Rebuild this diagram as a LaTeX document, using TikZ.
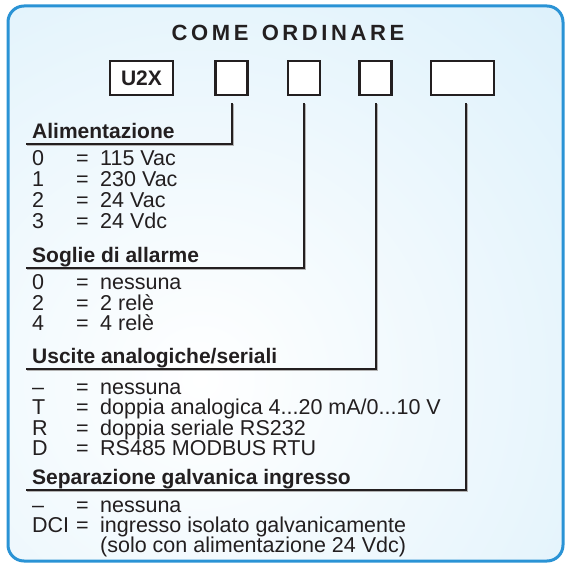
\documentclass[tikz,border=0pt]{standalone}
\usepackage{fontspec}
\setmainfont{Liberation Sans}
\definecolor{txt}{HTML}{231F20}
\definecolor{frameblue}{HTML}{2A93D5}
\definecolor{bgblue}{HTML}{D4EDFA}
\newcommand\rw[2]{\makebox[44pt][l]{#1}\makebox[24pt][l]{=}#2}
\newcommand\rwc[1]{\makebox[44pt][l]{}\makebox[24pt][l]{}#1}
\newcommand\ks{\kern3.6pt}
\begin{document}
\begin{tikzpicture}[x=1pt,y=-1pt,
  box/.style={draw=txt, line width=2.2pt, fill=white, minimum height=34pt, inner sep=0pt, text=txt,
              font=\bfseries\fontsize{21}{21}\selectfont},
  conn/.style={draw=txt, line width=2pt},
  shadowline/.style={draw=black!30, line width=2pt},
  head/.style={anchor=base west, inner sep=0pt, text=txt, font=\bfseries\fontsize{21}{21}\selectfont},
  row/.style={anchor=base west, inner sep=0pt, text=txt, font=\fontsize{21.5}{21.5}\selectfont},
  titlestyle/.style={inner sep=0pt, text=txt, font=\bfseries\fontsize{22}{22}\selectfont},
]
\useasboundingbox (0,0) rectangle (568,567);
% background
\begin{scope}
  \clip[rounded corners=16pt] (8,6) rectangle (563,561);
  \shade[inner color=white, outer color=bgblue] (200,380) circle (660);
\end{scope}
\draw[frameblue, line width=3pt, rounded corners=16pt] (8,6) rectangle (563,561);

% title
\node[titlestyle] (title) at (288,33) {C\ks O\ks M\ks E\ks{} \ks O\ks R\ks D\ks I\ks N\ks A\ks R\ks E};

% boxes
\node[box, minimum width=63pt] (u2x) at (141.5,78) {U2X};
\node[box, minimum width=32pt] (b2) at (231.5,78) {};
\node[box, minimum width=32pt] (b3) at (304,78) {};
\node[box, minimum width=32pt] (b4) at (375.5,78) {};
\node[box, minimum width=63pt] (b5) at (462.5,78) {};

% underline end points
\coordinate (e1) at (26,144);
\coordinate (e2) at (26,268);
\coordinate (e3) at (26,369);
\coordinate (e4) at (26,490);
\coordinate (s1) at ([yshift=-7pt]b2.south);
\coordinate (s2) at ([yshift=-7pt]b3.south);
\coordinate (s3) at ([yshift=-7pt]b4.south);
\coordinate (s4) at ([xshift=3pt,yshift=-7pt]b5.south);

% shadows
\foreach \s/\e in {s1/e1,s2/e2,s3/e3,s4/e4}{
  \draw[shadowline] ([shift={(1.4,1.4)}]\s) |- ([shift={(1.4,1.4)}]\e);
}
% connectors
\draw[conn] (s1) |- (e1);
\draw[conn] (s2) |- (e2);
\draw[conn] (s3) |- (e3);
\draw[conn] (s4) |- (e4);

% section 1
\node[head] (h1) at (32,138.5) {Alimentazione};
\node[row] (r11) at (32,165.3) {\rw{0}{115 Vac}};
\node[row] (r12) at (32,186.3) {\rw{1}{230 Vac}};
\node[row] (r13) at (32,207.3) {\rw{2}{24 Vac}};
\node[row] (r14) at (32,228.3) {\rw{3}{24 Vdc}};

% section 2
\node[head] (h2) at (32,262.5) {Soglie di allarme};
\node[row] (r21) at (32,289.5) {\rw{0}{nessuna}};
\node[row] (r22) at (32,310) {\rw{2}{2 relè}};
\node[row] (r23) at (32,330.5) {\rw{4}{4 relè}};

% section 3
\node[head] (h3) at (32,363.5) {Uscite analogiche/seriali};
\node[row] (r31) at (32,394.3) {\rw{–}{nessuna}};
\node[row] (r32) at (32,414.5) {\rw{T}{doppia analogica 4...20 mA/0...10 V}};
\node[row] (r33) at (32,435) {\rw{R}{doppia seriale RS232}};
\node[row] (r34) at (32,455.5) {\rw{D}{RS485 MODBUS RTU}};

% section 4
\node[head] (h4) at (32,484.5) {Separazione galvanica ingresso};
\node[row] (r41) at (32,512) {\rw{–}{nessuna}};
\node[row] (r42) at (32,532) {\rw{DCI}{ingresso isolato galvanicamente}};
\node[row] (r43) at (32,552) {\rwc{(solo con alimentazione 24 Vdc)}};
\end{tikzpicture}
\end{document}
